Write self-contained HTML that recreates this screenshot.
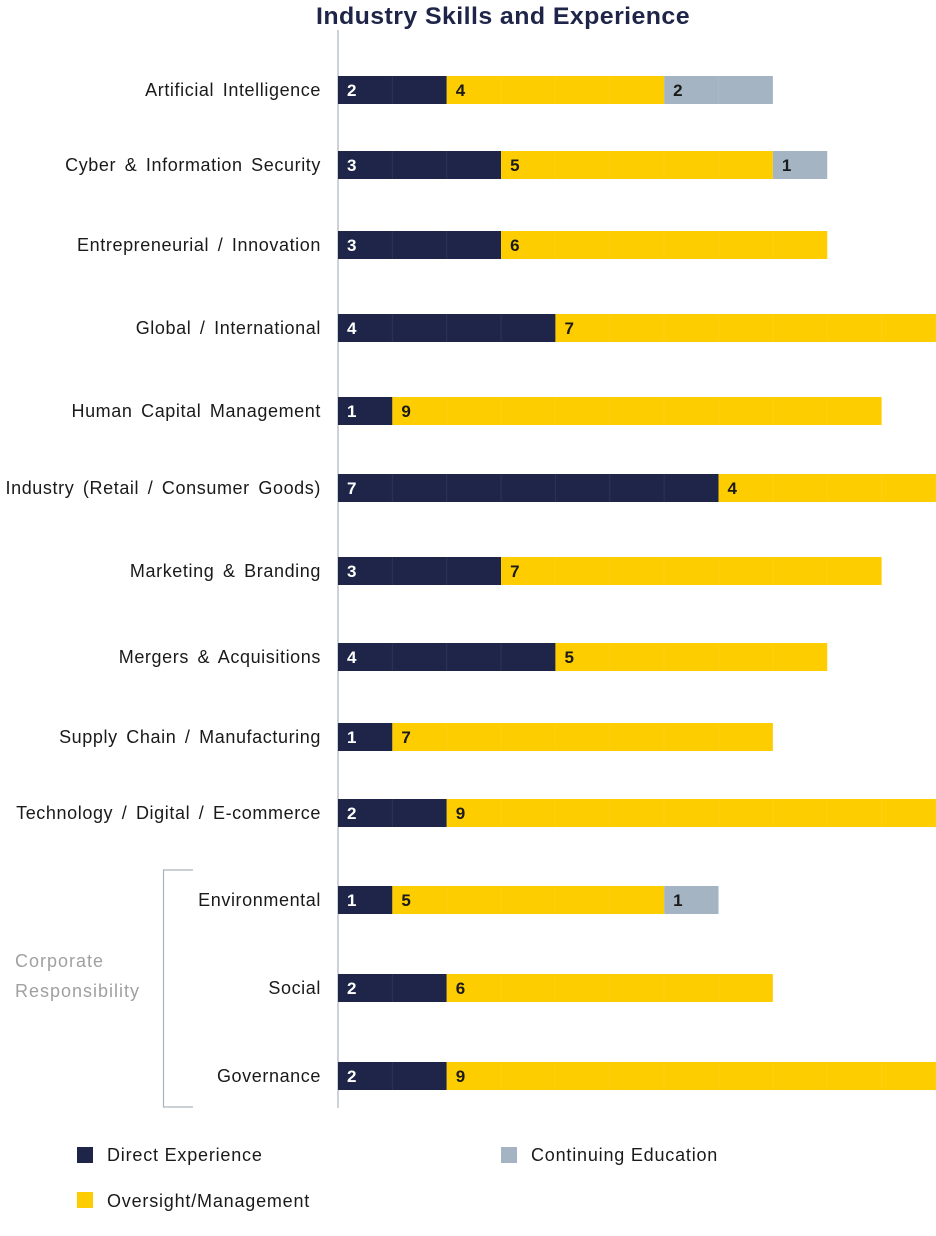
<!DOCTYPE html>
<html><head><meta charset="utf-8"><style>
body{margin:0;background:#fff;}
svg{display:block;font-family:"Liberation Sans",sans-serif;}
</style></head><body>
<svg id="chart" width="936" height="1236">
<text x="503" y="24" text-anchor="middle" font-size="24" font-weight="bold" fill="#1e2548" letter-spacing="0.4" textLength="374" lengthAdjust="spacingAndGlyphs">Industry Skills and Experience</text>
<line x1="338" y1="30" x2="338" y2="1108" stroke="#a9b3be" stroke-width="1.2"/>
<path d="M193 870 H163.5 V1107 H193" fill="none" stroke="#a9b3be" stroke-width="1.2"/>
<text x="15" y="967" font-size="18" fill="#a0a0a0" letter-spacing="1">Corporate</text>
<text x="15" y="997" font-size="18" fill="#a0a0a0" letter-spacing="1">Responsibility</text>
<g id="bars"></g>
<g letter-spacing="0.8">
<rect x="77" y="1147" width="16" height="16" fill="#1e2548"/>
<text x="107" y="1161" font-size="18" fill="#1a1a1a">Direct Experience</text>
<rect x="501" y="1147" width="16" height="16" fill="#a5b4c3"/>
<text x="531" y="1161" font-size="18" fill="#1a1a1a">Continuing Education</text>
<rect x="77" y="1192" width="16" height="16" fill="#fecd00"/>
<text x="107" y="1207" font-size="18" fill="#1a1a1a">Oversight/Management</text>
</g>
</svg>
<script>
const categories=["Artificial Intelligence","Cyber & Information Security","Entrepreneurial / Innovation","Global / International","Human Capital Management","Industry (Retail / Consumer Goods)","Marketing & Branding","Mergers & Acquisitions","Supply Chain / Manufacturing","Technology / Digital / E-commerce","Environmental","Social","Governance"];
const directValues=[2,3,3,4,1,7,3,4,1,2,1,2,2];
const oversightValues=[4,5,6,7,9,4,7,5,7,9,5,6,9];
const educationValues=[2,1,0,0,0,0,0,0,0,0,1,0,0];
const rowCenters=[90,165,245,328,411,488,571,657,737,813,900,988,1076];
const NS="http://www.w3.org/2000/svg";
const x0=338,unit=54.36,bh=28;
const xs=v=>x0+v*unit;
const g=document.getElementById('bars');
function mk(t,a){const e=document.createElementNS(NS,t);for(const k in a)e.setAttribute(k,a[k]);return e;}
const series=[[directValues,"#1e2548","#fff","direct"],[oversightValues,"#fecd00","#1a1a1a","oversight"],[educationValues,"#a5b4c3","#1a1a1a","education"]];
categories.forEach((c,i)=>{
  const y=rowCenters[i];
  const lab=mk('text',{x:321,y:y+6,'text-anchor':'end','font-size':18,fill:'#1a1a1a','letter-spacing':0.6,'word-spacing':3});
  lab.textContent=c;
  
  
  g.appendChild(lab);
  let acc=0;
  series.forEach(([arr,col,tc,nm])=>{
    const v=arr[i]; if(!v)return;
    const r=mk('rect',{x:xs(acc),y:y-bh/2,width:xs(acc+v)-xs(acc),height:bh,fill:col});
    
    
    g.appendChild(r);
    for(let k=1;k<v;k++){
      const l=mk('line',{x1:xs(acc+k),x2:xs(acc+k),y1:y-bh/2,y2:y+bh/2,stroke:'#ffffff','stroke-opacity':0.07,'stroke-width':1});
      
      
      g.appendChild(l);
    }
    const t=mk('text',{x:xs(acc)+9,y:y+6,'font-size':17,'font-weight':'bold',fill:tc});
    t.textContent=v;
    
    
    g.appendChild(t);
    acc+=v;
  });
});
</script>
</body></html>
